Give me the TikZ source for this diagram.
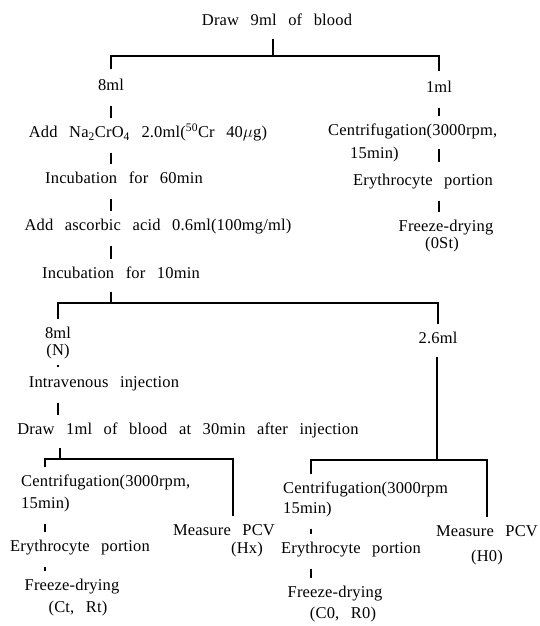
\documentclass[tikz,border=0pt]{standalone}
\usepackage{fontspec}
\setmainfont{Liberation Serif}[LetterSpace=1,WordSpace=2.7]
\usepackage{tikz}
\tikzset{
  steptext/.style={inner sep=0pt,font=\fontsize{16.5}{20}\selectfont,
    text height=11.3pt,text depth=3.5pt},
  treeline/.style={line width=1.1pt},
  stubline/.style={treeline,shorten <=11pt,shorten >=8pt},
  stemline/.style={treeline,shorten <=9pt},
  legline/.style={treeline,shorten <=#1,shorten >=#1},
  legline/.default=8pt
}

\begin{document}
\begin{tikzpicture}[x=1pt,y=-1pt]
  \useasboundingbox (0,0) rectangle (539,626);
  \coordinate (colL) at (111,0);
  \coordinate (colR) at (439,0);
  \coordinate (colN) at (58,0);
  \coordinate (colB) at (45,0);
  \coordinate (colX) at (233,0);
  \coordinate (colC) at (311,0);
  \coordinate (top) at (273,56);
  \coordinate (mid) at (111,303);
  \coordinate (lowL) at (60,459);
  \coordinate (lowR) at (437,460);

  \node[steptext] (draw9) at (277,22) {Draw 9ml of blood};
  \node[steptext] (ml8a) at (111,87) {8ml};
  \node[steptext] (ml1) at (439,89) {1ml};
  \draw[stemline] (draw9.south -| top) -- (top);
  \draw[legline=10pt] (ml8a.north) |- (top) -| (ml1.north);

  \node[steptext] (addna) at (148,134)
    {Add Na\textsubscript{2}CrO\textsubscript{4} 2.0ml(\textsuperscript{50}Cr 40$\mu$g)};
  \node[steptext] (inc60) at (124,180) {Incubation for 60min};
  \node[steptext] (asc) at (158,227) {Add ascorbic acid 0.6ml(100mg/ml)};
  \node[steptext] (inc10) at (121,275) {Incubation for 10min};
  \foreach \a/\b in {ml8a/addna,addna/inc60,inc60/asc,asc/inc10}
    \draw[stubline] (\a.south -| colL) -- (\b.north -| colL);

  \node[steptext,anchor=west] (cenA) at (328,132) {Centrifugation(3000rpm,};
  \node[steptext,anchor=west] (cenAmin) at (350,155) {15min)};
  \node[steptext] (eryA) at (423,182) {Erythrocyte portion};
  \node[steptext] (fdA) at (446,228) {Freeze-drying};
  \node[steptext] (st0) at (442,245) {(0St)};
  \draw[stubline] (ml1.south -| colR) -- (cenA.north -| colR);
  \draw[treeline,shorten <=2pt,shorten >=12pt] (cenAmin.north -| colR) -- (eryA.north -| colR);
  \draw[stubline] (eryA.south -| colR) -- (fdA.north -| colR);

  \node[steptext] (ml8b) at (58,335) {8ml};
  \node[steptext] (tagN) at (58,352) {(N)};
  \node[steptext] (ml26) at (438,340) {2.6ml};
  \draw[stemline] (inc10.south -| mid) -- (mid);
  \draw[legline] (ml8b.north) |- (mid) -| (ml26.north);

  \node[steptext] (ivinj) at (104,384) {Intravenous injection};
  \node[steptext] (draw1) at (188,431) {Draw 1ml of blood at 30min after injection};
  \draw[treeline,shorten <=5pt,shorten >=9pt] (tagN.south -| colN) -- (ivinj.north -| colN);
  \draw[stubline] (ivinj.south -| colN) -- (draw1.north -| colN);

  \node[steptext,anchor=west] (cenB) at (21,483) {Centrifugation(3000rpm,};
  \node[steptext,anchor=west] (cenBmin) at (21,505) {15min)};
  \node[steptext] (pcvB) at (224,532) {Measure PCV};
  \node[steptext] (hx) at (247,550) {(Hx)};
  \node[steptext] (eryB) at (80,548) {Erythrocyte portion};
  \node[steptext] (fdB) at (72,587) {Freeze-drying};
  \node[steptext] (ctrt) at (78,609) {(Ct, Rt)};
  \draw[stemline] (draw1.south -| lowL) -- (lowL);
  \draw[legline] (cenB.north -| colB) |- (lowL) -| (pcvB.north -| colX);
  \draw[stubline] (cenBmin.south -| colB) -- (eryB.north -| colB);
  \draw[stubline] (eryB.south -| colB) -- (fdB.north -| colB);

  \node[steptext,anchor=west] (cenC) at (283,490) {Centrifugation(3000rpm};
  \node[steptext,anchor=west] (cenCmin) at (283,510) {15min)};
  \node[steptext] (pcvC) at (487,533) {Measure PCV};
  \node[steptext] (h0) at (487,558) {(H0)};
  \node[steptext] (eryC) at (351,550) {Erythrocyte portion};
  \node[steptext] (fdC) at (335,594) {Freeze-drying};
  \node[steptext] (c0r0) at (343,615) {(C0, R0)};
  \draw[stemline] (ml26.south -| lowR) -- (lowR);
  \draw[legline] (cenC.north -| colC) |- (lowR) -| (pcvC.north);
  \draw[stubline] (cenCmin.south -| colC) -- (eryC.north -| colC);
  \draw[stubline] (eryC.south -| colC) -- (fdC.north -| colC);
\end{tikzpicture}
\end{document}
